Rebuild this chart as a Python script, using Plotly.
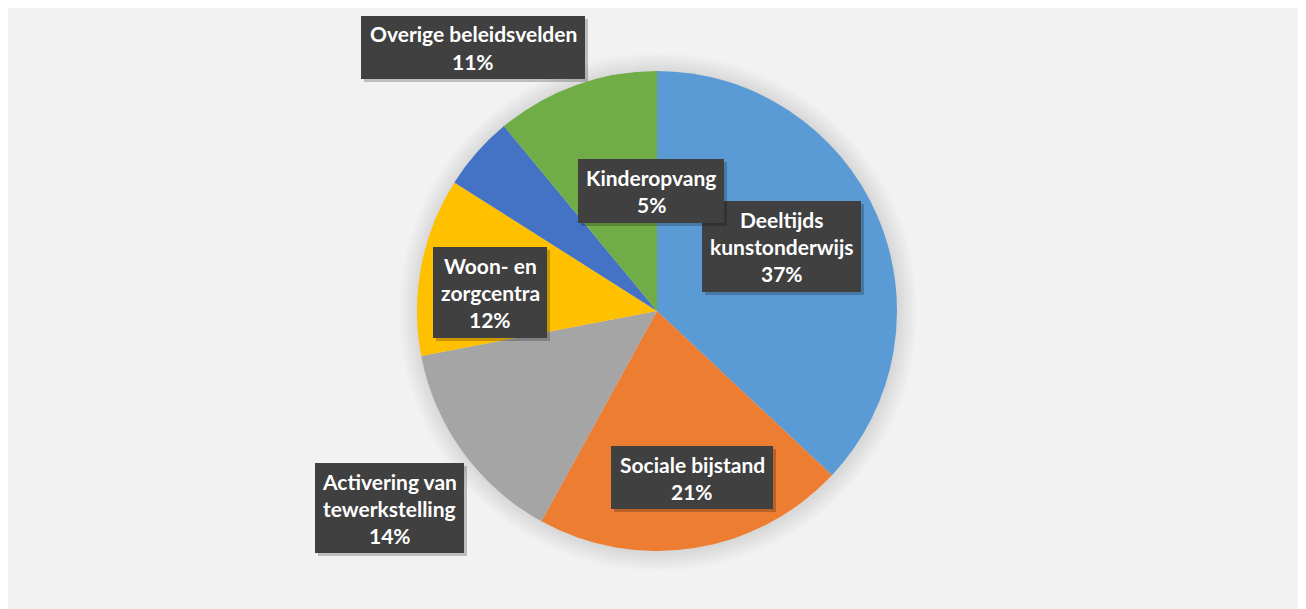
import plotly.graph_objects as go

categories = ["Deeltijds kunstonderwijs", "Sociale bijstand", "Activering van tewerkstelling",
              "Woon- en zorgcentra", "Kinderopvang", "Overige beleidsvelden"]
values = [37, 21, 14, 12, 5, 11]
colors = ["#5B9BD5", "#ED7D31", "#A5A5A5", "#FFC000", "#4472C4", "#70AD47"]

# label line breaks and box geometry in window pixels (centre x, centre y, width, height)
label_lines = {
    "Deeltijds kunstonderwijs": ["Deeltijds", "kunstonderwijs"],
    "Sociale bijstand": ["Sociale bijstand"],
    "Activering van tewerkstelling": ["Activering van", "tewerkstelling"],
    "Woon- en zorgcentra": ["Woon- en", "zorgcentra"],
    "Kinderopvang": ["Kinderopvang"],
    "Overige beleidsvelden": ["Overige beleidsvelden"],
}
boxes = {
    "Deeltijds kunstonderwijs": (781.5, 246.5, 159, 91),
    "Sociale bijstand": (692, 477.5, 162, 63),
    "Activering van tewerkstelling": (389.5, 508, 149, 90),
    "Woon- en zorgcentra": (490, 292.5, 114, 91),
    "Kinderopvang": (651, 191, 146, 64),
    "Overige beleidsvelden": (473, 47.5, 224, 63),
}

OFF = 8  # page body margin
W, H = 1306 - OFF, 609 - OFF
ML, MR, MT, MB = 0, 0, 71 - OFF, 58
PW, PH = W - ML - MR, H - MT - MB


def px(x):
    return (x - OFF - ML) / PW


def py(y):
    return (H - MB - (y - OFF)) / PH


fig = go.Figure(go.Pie(
    labels=categories,
    values=values,
    sort=False,
    direction="clockwise",
    rotation=0,
    marker=dict(colors=colors, line=dict(width=0)),
    textinfo="none",
    hoverinfo="label+percent",
    showlegend=False,
))

shapes = []
# soft glow around pie
cx, cy, r = 657, 311, 240
for k in range(1, 14):
    R = r + k * 1.5
    shapes.append(dict(type="circle", xref="paper", yref="paper", layer="below",
                       x0=px(cx - R + 1), x1=px(cx + R + 1), y0=py(cy + R + 1), y1=py(cy - R + 1),
                       fillcolor="rgba(0,0,0,0.008)", line=dict(width=0)))

annotations = []
total = sum(values)
for cat, val in zip(categories, values):
    bx, by, bw, bh = boxes[cat]
    # shadow
    shapes.append(dict(type="rect", xref="paper", yref="paper", layer="above",
                       x0=px(bx - bw / 2 + 3), x1=px(bx + bw / 2 + 3),
                       y0=py(by + bh / 2 + 3), y1=py(by - bh / 2 + 3),
                       fillcolor="rgba(0,0,0,0.22)", line=dict(width=0)))
    shapes.append(dict(type="rect", xref="paper", yref="paper", layer="above",
                       x0=px(bx - bw / 2), x1=px(bx + bw / 2),
                       y0=py(by + bh / 2), y1=py(by - bh / 2),
                       fillcolor="#404040", line=dict(width=0)))
    lines = label_lines[cat] + [f"{round(val / total * 100)}%"]
    n = len(lines)
    step = 27
    for i, t in enumerate(lines):
        ly = by + (i - (n - 1) / 2) * step
        annotations.append(dict(xref="paper", yref="paper", x=px(bx), y=py(ly),
                                xanchor="center", yanchor="middle", showarrow=False,
                                text=f"<b>{t}</b>",
                                font=dict(family="Lato", size=21, color="white")))

fig.update_layout(
    width=W, height=H,
    margin=dict(l=ML, r=MR, t=MT, b=MB, pad=0),
    paper_bgcolor="#F2F2F2",
    plot_bgcolor="#F2F2F2",
    shapes=shapes,
    annotations=annotations,
)

fig.write_html("out.html")
